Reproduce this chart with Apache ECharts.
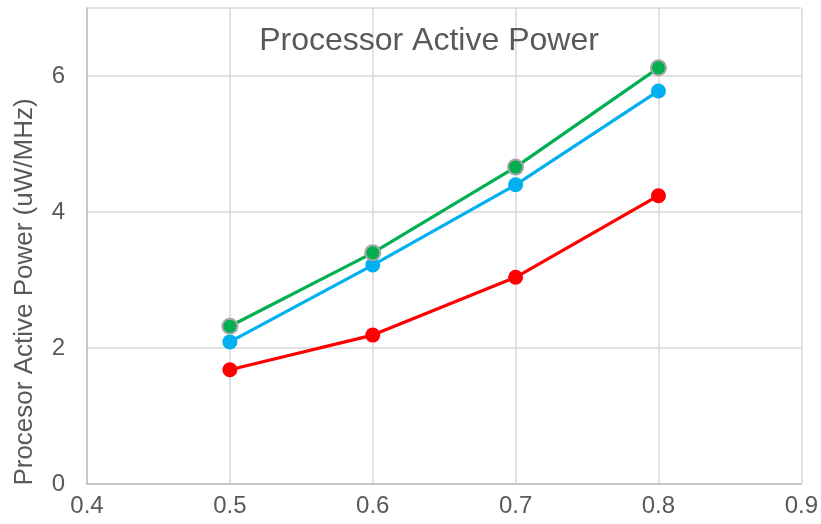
<!DOCTYPE html>
<html><head><meta charset="utf-8">
<script src="https://cdn.jsdelivr.net/npm/echarts@6/dist/echarts.min.js"></script>
<style>html,body{margin:0;padding:0;background:#fff}#c{width:821px;height:524px}</style>
</head><body><div id="c"></div>
<script>
const xValues = [0.5, 0.6, 0.7, 0.8];
const greenValues = [2.32, 3.40, 4.66, 6.12];
const blueValues = [2.09, 3.22, 4.40, 5.78];
const redValues = [1.68, 2.19, 3.04, 4.24];
const titleText = 'Processor Active Power';
const yAxisName = 'Procesor Active Power (uW/MHz)';

const chart = echarts.init(document.getElementById('c'));
const font = 'Liberation Sans, Arial, sans-serif';
function pts(v){ return xValues.map((x,i)=>[x, v[i]]); }
function s(name, vals, color, border){
  return {
    name, type:'line', data: pts(vals), symbol:'circle', symbolSize:15,
    lineStyle:{color, width:3.2}, itemStyle:{color, borderColor: border||color, borderWidth: border?2:0},
    animation:false, z: 3
  };
}
chart.setOption({
  animation:false,
  title:{text:titleText, left:424, top:20, textAlign:'center',
    textStyle:{fontFamily:font, fontSize:32, fontWeight:'normal', color:'#595959'}},
  grid:{left:87, right:15.5, top:8, bottom:40, containLabel:false},
  xAxis:{type:'value', min:0.4, max:0.9, interval:0.1,
    axisLine:{show:true, lineStyle:{color:'#bfbfbf', width:1.5}},
    axisTick:{show:false},
    splitLine:{show:true, lineStyle:{color:'#d9d9d9', width:1.5}},
    axisLabel:{fontFamily:font, fontSize:24, color:'#595959', margin:10,
      formatter:v=>(Math.round(v*10)/10).toFixed(1)}},
  yAxis:{type:'value', min:0, max:7, interval:2,
    axisLine:{show:true, lineStyle:{color:'#bfbfbf', width:1.5}},
    axisTick:{show:false},
    splitLine:{show:true, lineStyle:{color:'#d9d9d9', width:1.5}},
    axisLabel:{fontFamily:font, fontSize:24, color:'#595959', margin:22, showMaxLabel:false,
      formatter:v=> v===7 ? '' : String(v)}},
  graphic:[{type:'text', x:25, y:292, rotation:Math.PI/2,
    style:{text:yAxisName, fontFamily:font, fontSize:26, fill:'#595959', textAlign:'center', textVerticalAlign:'middle'}}],
  series:[
    s('red', redValues, '#ff0000'),
    s('blue', blueValues, '#00b0f0'),
    s('green', greenValues, '#00b050', '#a5a5a5')
  ]
});
</script></body></html>
